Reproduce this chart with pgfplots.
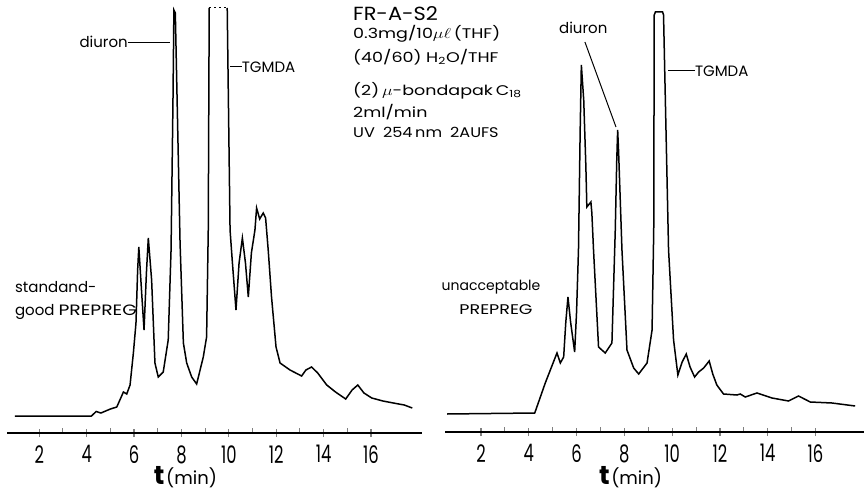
\documentclass[border=0pt]{standalone}
\usepackage{pgfplots}
\pgfplotsset{compat=1.18}
\usepackage{graphicx}
\usepackage{fontspec}
\setmainfont{Poppins}
\newcommand\tl[1]{\scalebox{0.78}[1.15]{#1}}
\newcommand\fs[1]{\fontsize{#1}{#1}\selectfont}
\newcommand\wide[1]{\scalebox{1.25}[1]{#1}}

\pgfplotstableread{
t h
0.97 17
4.20 17
4.40 21.5
4.60 20
5.00 24
5.27 26
5.55 41
5.69 39
5.83 48
5.97 80
6.08 110
6.15 163
6.20 186
6.32 140
6.42 103
6.52 160
6.60 195
6.74 153
6.88 70
7.02 56
7.23 61
7.44 93
7.56 183
7.64 330
7.68 423
7.74 420
7.94 190
8.08 90
8.22 70
8.43 56
8.64 49
8.92 76
9.06 96
9.13 203
9.17 425
}\leftA
\pgfplotstableread{
t h
9.93 425
10.05 203
10.15 170
10.30 123
10.43 170
10.57 195
10.70 170
10.82 136
10.95 180
11.10 203
11.17 225
11.30 214
11.45 220
11.55 215
11.66 183
11.80 136
11.99 86
12.16 70
12.58 63
13.07 57
13.25 63
13.49 66
13.75 60
14.13 48
14.50 41
14.93 34
15.20 43
15.44 48
15.70 40
16.03 35
16.50 32
16.94 30
17.40 28
17.74 25
}\leftB
\pgfplotstableread{
t h
0.58 18
4.25 19
4.69 49
5.00 68
5.18 79
5.32 69
5.46 75
5.55 110
5.64 135
5.75 110
5.92 80
6.00 120
6.08 182
6.15 300
6.20 367
6.30 332
6.39 265
6.43 225
6.60 230
6.64 219
6.71 182
6.92 85
7.20 79
7.48 89
7.62 202
7.68 270
7.72 302
7.76 280
7.90 182
8.11 82
8.39 64
8.60 58
8.95 69
9.16 102
9.23 202
9.25 417
9.30 420
9.60 420
9.64 417
9.85 182
10.06 92
10.24 57
10.42 70
10.59 78
10.75 65
10.94 55
11.11 60
11.32 64
11.55 71
11.70 58
11.87 47
12.15 38
12.71 37
12.85 38
13.06 35
13.55 39
14.18 34
14.87 31
15.29 36
15.78 30
16.69 29
17.66 26
}\rightA

\begin{document}
\begin{tikzpicture}
\useasboundingbox (0pt,0pt) rectangle (864pt,493pt);
\pgfplotsset{
  chrom/.style={
    scale only axis,
    axis x line=bottom,
    axis y line=none,
    ymin=0,
    clip=false,
    xtick={2,4,...,16},
    xticklabels={\tl{2},\tl{4},\tl{6},\tl{8},\tl{10},\tl{12},\tl{14},\tl{16}},
    minor xtick={3,5,...,15},
    xtick align=center,
    major tick length=8pt,
    minor tick length=5pt,
    minor tick style={yshift=2.5pt, line width=1pt},
    major tick style={line width=1.2pt},
    axis line style={line width=1.4pt, -},
    xticklabel style={font=\fs{21}, yshift=-5pt},
    every axis plot/.append style={line width=1.5pt, black},
    /pgf/number format/assume math mode=true,
  }
}
% Left panel
\begin{axis}[chrom,
  at={(7pt,60pt)}, anchor=south west,
  width=415pt, height=425pt,
  xmin=0.637, xmax=18.15, ymax=425]
\addplot[no marks] table[x=t,y=h] {\leftA};
\addplot[no marks] table[x=t,y=h] {\leftB};
\addplot[no marks, dash pattern=on 2pt off 3pt, line width=1pt] coordinates {(9.17,425) (9.93,425)};
\draw[line width=1pt] (axis cs:5.74,390) -- (axis cs:7.51,390);
\node[anchor=east, inner sep=0pt, font=\fs{15}] at (axis cs:5.74,391) {diuron};
\draw[line width=1pt] (axis cs:10.05,366) -- (axis cs:10.54,366);
\node[anchor=west, inner sep=0pt, font=\fs{15}] at (axis cs:10.54,366) {TGMDA};
\node[anchor=west, inner sep=0pt, font=\fs{15}] at (axis cs:0.97,146) {standand-};
\node[anchor=west, inner sep=0pt, font=\fs{15}] at (axis cs:0.97,121) {good \wide{PREPREG}};
\node[anchor=west, inner sep=0pt, font=\fs{19}] at (axis cs:15.24,419) {\scalebox{1.1}[1]{FR-A-S2}};
\node[anchor=west, inner sep=0pt, font=\fs{14}] at (axis cs:15.24,399) {\wide{0.3mg/10$\mu\ell$\,(THF)}};
\node[anchor=west, inner sep=0pt, font=\fs{14}] at (axis cs:15.24,376) {\wide{(40/60) H\textsubscript{2}O/THF}};
\node[anchor=west, inner sep=0pt, font=\fs{14}] at (axis cs:15.24,342) {\wide{(2)\,$\mu$-bondapak\,C\textsubscript{18}}};
\node[anchor=west, inner sep=0pt, font=\fs{14}] at (axis cs:15.24,321) {\wide{2ml/min}};
\node[anchor=west, inner sep=0pt, font=\fs{14}] at (axis cs:15.24,301) {\scalebox{1.15}[1]{UV\enspace 254\,nm\enspace 2AUFS}};
\node[inner sep=0pt] at (axis cs:8.17,-44) {{\fs{26}\bfseries t}\,{\fs{18}(min)}};
\end{axis}
% Right panel
\begin{axis}[chrom,
  at={(445pt,61pt)}, anchor=south west,
  width=419pt, height=424pt,
  xmin=0.494, xmax=18.03, ymax=424]
\addplot[no marks] table[x=t,y=h] {\rightA};
\draw[line width=1pt] (axis cs:6.35,390) -- (axis cs:7.65,305);
\node[inner sep=0pt, font=\fs{15}] at (axis cs:6.28,404) {diuron};
\draw[line width=1pt] (axis cs:9.84,361) -- (axis cs:10.95,361);
\node[anchor=west, inner sep=0pt, font=\fs{15}] at (axis cs:10.95,361) {TGMDA};
\node[inner sep=0pt, font=\fs{14}] at (axis cs:2.42,145) {unacceptable};
\node[inner sep=0pt, font=\fs{14}] at (axis cs:2.63,122) {\wide{PREPREG}};
\node[inner sep=0pt] at (axis cs:8.26,-45) {{\fs{26}\bfseries t}\,{\fs{18}(min)}};
\end{axis}
\end{tikzpicture}
\end{document}
